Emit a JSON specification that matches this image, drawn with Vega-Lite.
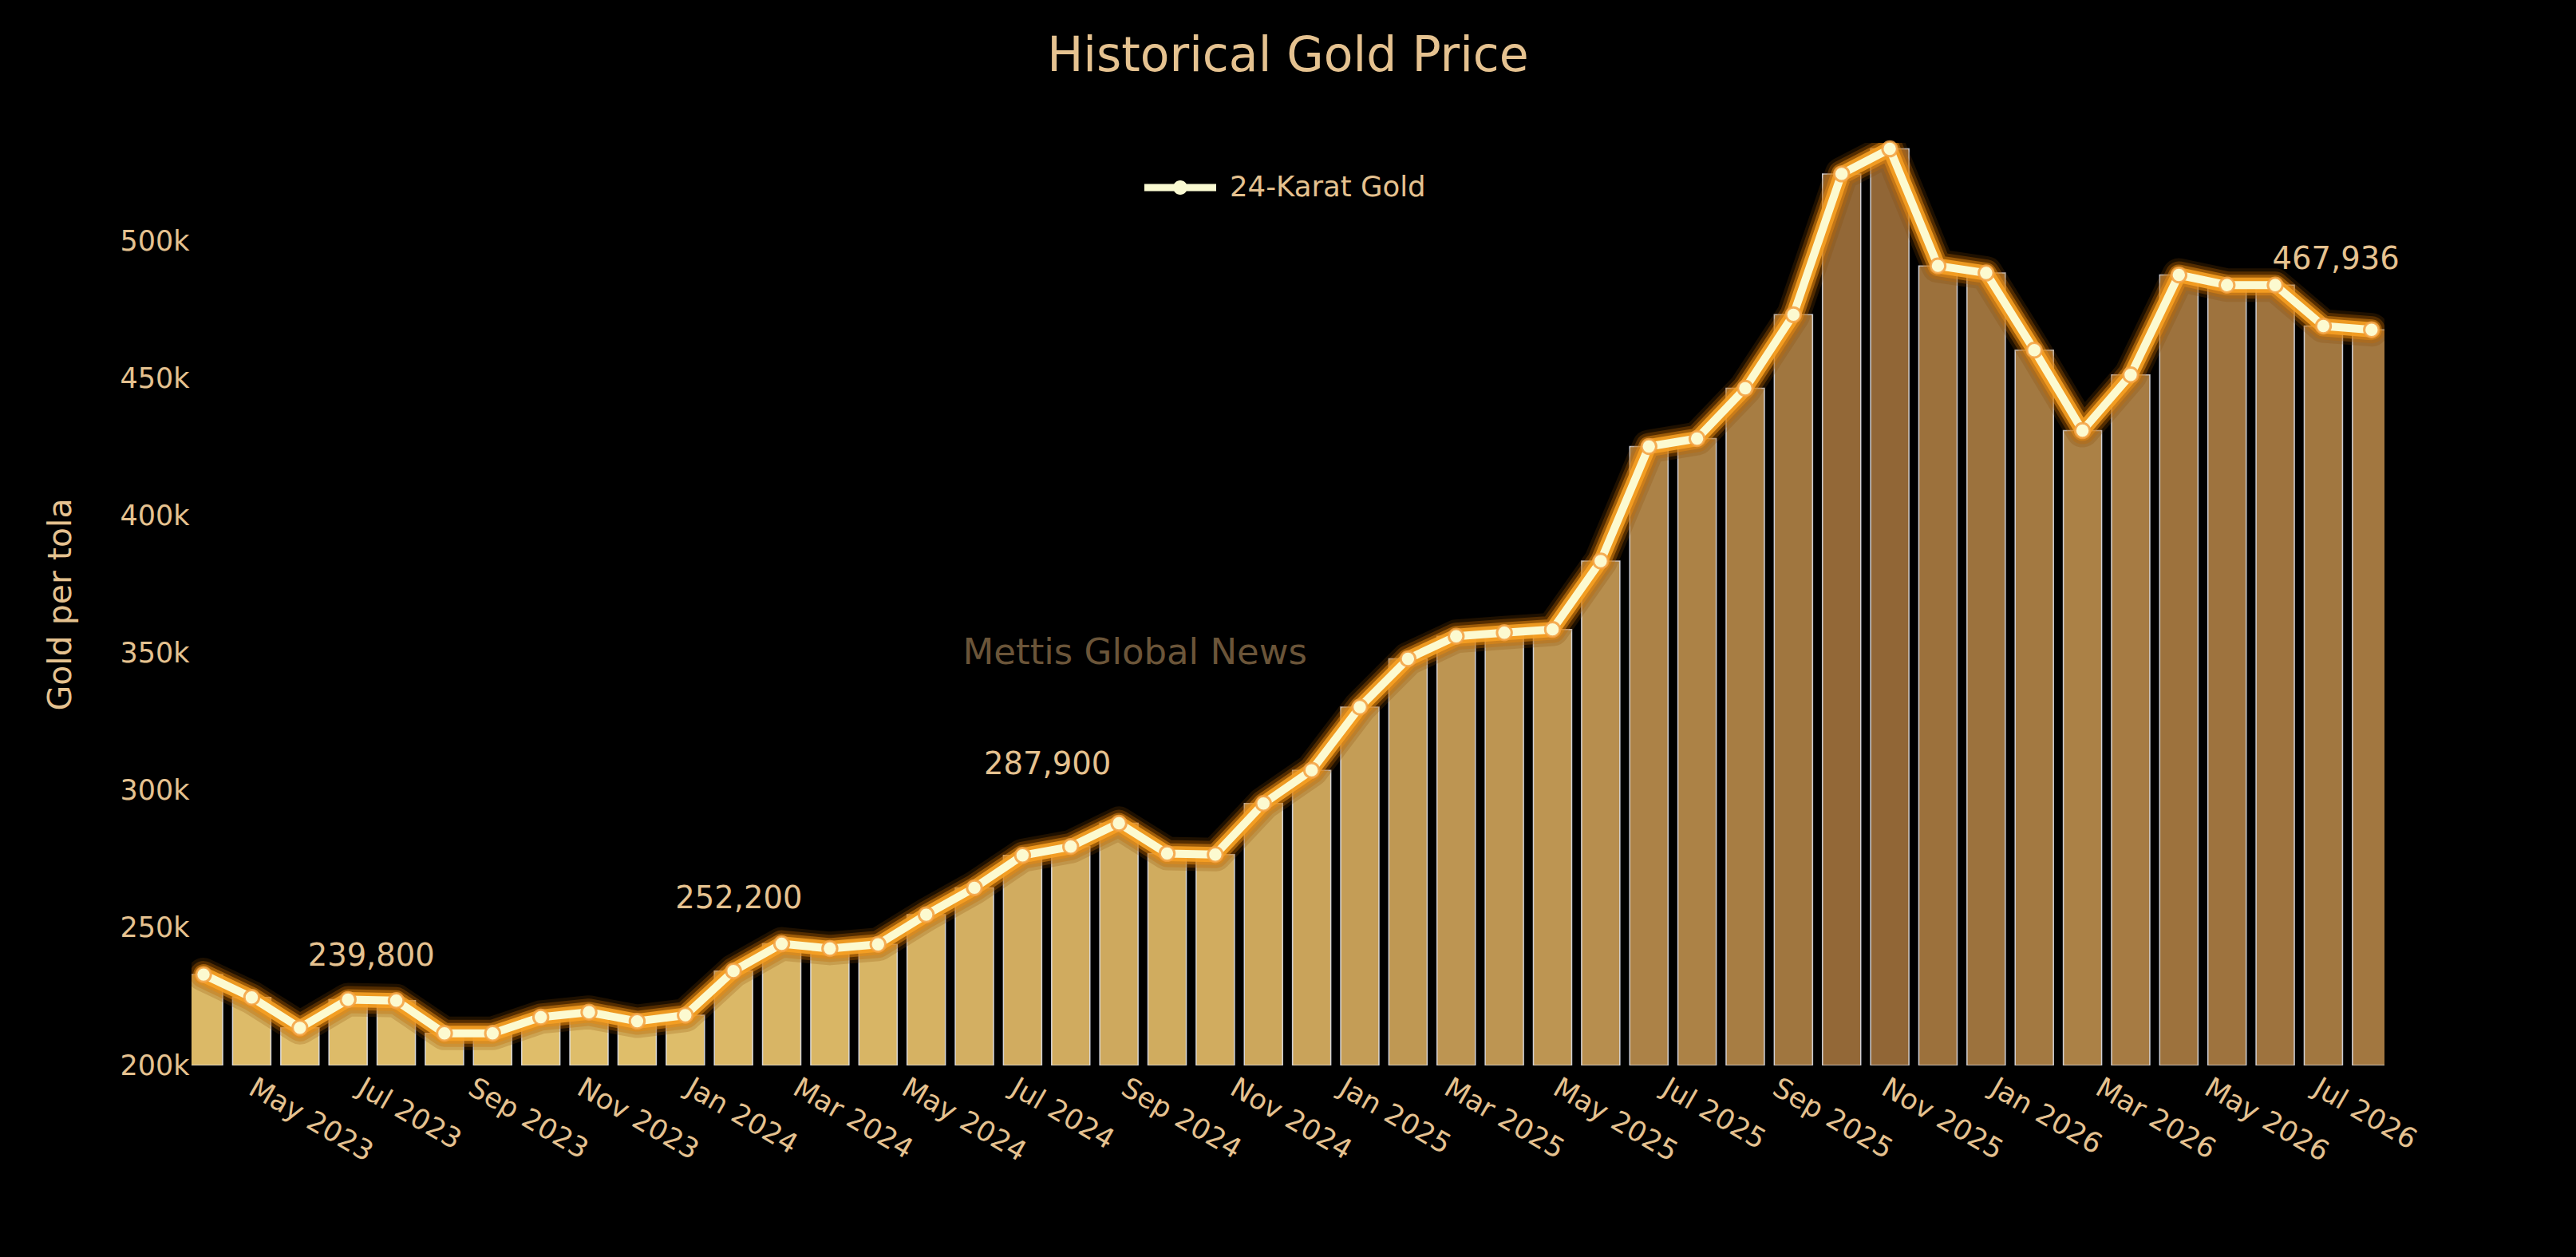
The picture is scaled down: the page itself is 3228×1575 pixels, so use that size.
{
  "$schema": "https://vega.github.io/schema/vega-lite/v6.json",
  "width": 2748,
  "height": 1156,
  "autosize": {"type": "none"},
  "padding": {"left": 240, "top": 179, "right": 240, "bottom": 240},
  "background": "#000000",
  "title": {
    "text": "Historical Gold Price",
    "font": "DejaVu Sans",
    "fontSize": 60,
    "fontWeight": "normal",
    "color": "#e5c290",
    "anchor": "middle",
    "frame": "group",
    "baseline": "alphabetic",
    "offset": 22
  },
  "datasets": {
    "gold": [
      {"date": "2023-04-06", "price": 233100},
      {"date": "2023-05-03", "price": 224800},
      {"date": "2023-05-30", "price": 213700},
      {"date": "2023-06-26", "price": 224000},
      {"date": "2023-07-23", "price": 223600},
      {"date": "2023-08-19", "price": 211700},
      {"date": "2023-09-15", "price": 211700},
      {"date": "2023-10-12", "price": 217600},
      {"date": "2023-11-08", "price": 219400},
      {"date": "2023-12-05", "price": 216100},
      {"date": "2024-01-01", "price": 218300},
      {"date": "2024-01-28", "price": 234400},
      {"date": "2024-02-24", "price": 244300},
      {"date": "2024-03-22", "price": 242600},
      {"date": "2024-04-18", "price": 244100},
      {"date": "2024-05-15", "price": 254900},
      {"date": "2024-06-11", "price": 264700},
      {"date": "2024-07-08", "price": 276500},
      {"date": "2024-08-04", "price": 279700},
      {"date": "2024-08-31", "price": 288200},
      {"date": "2024-09-27", "price": 277200},
      {"date": "2024-10-24", "price": 276800},
      {"date": "2024-11-20", "price": 295400},
      {"date": "2024-12-17", "price": 307500},
      {"date": "2025-01-13", "price": 330500},
      {"date": "2025-02-09", "price": 348100},
      {"date": "2025-03-08", "price": 356300},
      {"date": "2025-04-04", "price": 357600},
      {"date": "2025-05-01", "price": 358800},
      {"date": "2025-05-28", "price": 383700},
      {"date": "2025-06-24", "price": 425400},
      {"date": "2025-07-21", "price": 428300},
      {"date": "2025-08-17", "price": 446600},
      {"date": "2025-09-13", "price": 473400},
      {"date": "2025-10-10", "price": 524700},
      {"date": "2025-11-06", "price": 533800},
      {"date": "2025-12-03", "price": 491200},
      {"date": "2025-12-30", "price": 488600},
      {"date": "2026-01-26", "price": 460500},
      {"date": "2026-02-22", "price": 431200},
      {"date": "2026-03-21", "price": 451500},
      {"date": "2026-04-17", "price": 487900},
      {"date": "2026-05-14", "price": 484200},
      {"date": "2026-06-10", "price": 484200},
      {"date": "2026-07-07", "price": 469300},
      {"date": "2026-08-03", "price": 467936}
    ],
    "notes": [
      {"date": "2023-07-09", "price": 239800, "label": "239,800"},
      {"date": "2024-01-31", "price": 260800, "label": "252,200"},
      {"date": "2024-07-22", "price": 309600, "label": "287,900"},
      {"date": "2026-07-14", "price": 493600, "label": "467,936"}
    ],
    "watermark": [
      {"date": "2024-09-09", "price": 350300, "label": "Mettis Global News"}
    ]
  },
  "encoding": {
    "x": {
      "field": "date",
      "type": "temporal",
      "scale": {
        "type": "utc",
        "domain": [
          {"year": 2023, "month": 4, "date": 1, "hours": 12, "utc": true},
          {"year": 2026, "month": 8, "date": 8, "utc": true}
        ]
      },
      "axis": {
        "title": null,
        "format": "%b %Y",
        "tickCount": {"interval": "month", "step": 2},
        "labelAngle": 30,
        "labelAlign": "left",
        "labelBaseline": "top",
        "labelPadding": 10,
        "labelOffset": 12,
        "labelFontSize": 35,
        "labelColor": "#e5c290",
        "labelOverlap": false,
        "ticks": false,
        "domain": false,
        "grid": false
      }
    },
    "y": {
      "field": "price",
      "type": "quantitative",
      "scale": {"domain": [200000, 536000], "zero": false, "nice": false},
      "axis": {
        "title": "Gold per tola",
        "titleFontSize": 41,
        "titleFontWeight": "normal",
        "titleColor": "#e5c290",
        "titlePadding": 52,
        "values": [200000, 250000, 300000, 350000, 400000, 450000, 500000],
        "format": "~s",
        "labelFontSize": 35,
        "labelColor": "#e5c290",
        "labelPadding": 3,
        "ticks": false,
        "domain": false,
        "grid": false
      }
    }
  },
  "layer": [
    {
      "data": {"name": "gold"},
      "mark": {"type": "bar", "width": 48, "clip": true, "stroke": "#e4e8f2", "strokeWidth": 1.5, "strokeOpacity": 0.85},
      "encoding": {
        "y2": {"datum": 200000},
        "fill": {
          "field": "price",
          "type": "quantitative",
          "scale": {"range": ["#e0bf6b", "#916636"]},
          "legend": null
        }
      }
    },
    {
      "data": {"name": "gold"},
      "mark": {"type": "line", "clip": true, "stroke": "#8a4a00", "strokeWidth": 42, "strokeOpacity": 0.22, "strokeJoin": "round", "strokeCap": "round"},
      "encoding": {}
    },
    {
      "data": {"name": "gold"},
      "mark": {"type": "line", "clip": true, "stroke": "#c46a00", "strokeWidth": 34, "strokeOpacity": 0.32, "strokeJoin": "round", "strokeCap": "round"},
      "encoding": {}
    },
    {
      "data": {"name": "gold"},
      "mark": {"type": "line", "clip": true, "stroke": "#e88a10", "strokeWidth": 26, "strokeOpacity": 0.5, "strokeJoin": "round", "strokeCap": "round"},
      "encoding": {}
    },
    {
      "data": {"name": "gold"},
      "mark": {"type": "line", "clip": true, "stroke": "#f6a023", "strokeWidth": 19, "strokeOpacity": 0.9, "strokeJoin": "round", "strokeCap": "round"},
      "encoding": {}
    },
    {
      "data": {"name": "gold"},
      "mark": {"type": "line", "clip": true, "strokeWidth": 10, "strokeJoin": "round"},
      "encoding": {
        "stroke": {
          "datum": "24-Karat Gold",
          "type": "nominal",
          "scale": {"range": ["#fcfad0"]},
          "legend": {
            "title": null,
            "orient": "none",
            "legendX": 1194,
            "legendY": 11,
            "padding": 0,
            "symbolType": "M-1,-0.1H1V0.1H-1Z M0.2,0A0.2,0.2 0 1,1 -0.2,0A0.2,0.2 0 1,1 0.2,0Z",
            "symbolSize": 8100,
            "labelFontSize": 35.5,
            "labelColor": "#e5c290",
            "labelOffset": 17,
            "labelLimit": 0,
            "encode": {
              "symbols": {
                "update": {
                  "fill": {"value": "#fafad2"},
                  "stroke": {"value": "transparent"},
                  "strokeWidth": {"value": 0},
                  "opacity": {"value": 1}
                }
              }
            }
          }
        }
      }
    },
    {
      "data": {"name": "gold"},
      "mark": {"type": "circle", "size": 340, "fill": "#fcfad0", "stroke": "#f3a040", "strokeWidth": 3, "strokeOpacity": 0.85, "opacity": 1},
      "encoding": {}
    },
    {
      "data": {"name": "notes"},
      "mark": {"type": "text", "fontSize": 38.5, "color": "#e5c290", "align": "center", "baseline": "middle"},
      "encoding": {"text": {"field": "label"}}
    },
    {
      "data": {"name": "watermark"},
      "mark": {"type": "text", "fontSize": 45, "color": "#6b5539", "align": "center", "baseline": "middle"},
      "encoding": {"text": {"field": "label"}}
    }
  ],
  "config": {
    "font": "DejaVu Sans",
    "view": {"stroke": null}
  }
}
